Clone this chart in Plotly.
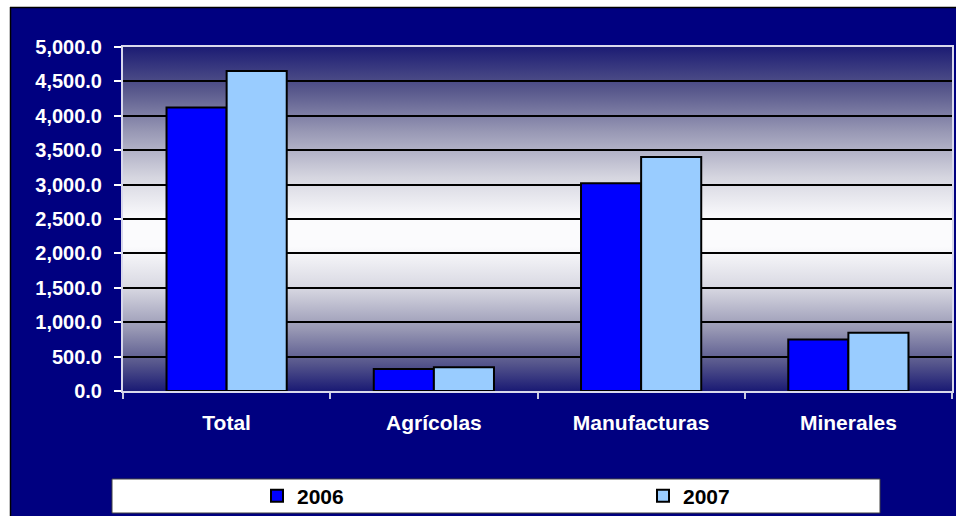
import base64
import plotly.graph_objects as go

categories = ["Total", "Agrícolas", "Manufacturas", "Minerales"]
values_2006 = [4120, 320, 3020, 750]
values_2007 = [4650, 345, 3400, 845]
y_ticks = [0, 500, 1000, 1500, 2000, 2500, 3000, 3500, 4000, 4500, 5000]

W, H = 956, 516
ML, MR, MT, MB = 123, 4, 47, 125
PW, PH = W - ML - MR, H - MT - MB
NAVY = "#000080"
FONT = "Arial, Liberation Sans, sans-serif"


def px_x(px):
    return (px - ML) / PW


def px_y(py):
    return (H - MB - py) / PH


# vertical gradient for the plot area: navy -> white -> navy
svg = """<svg xmlns='http://www.w3.org/2000/svg' width='100' height='100' preserveAspectRatio='none'>
<defs><linearGradient id='g' x1='0' y1='0' x2='0' y2='1'>
<stop offset='0' stop-color='#1c1c74'/>
<stop offset='0.12' stop-color='#55558a'/>
<stop offset='0.25' stop-color='#9a9ab6'/>
<stop offset='0.38' stop-color='#d6d6e0'/>
<stop offset='0.5' stop-color='#fbfbfd'/>
<stop offset='0.58' stop-color='#fbfbfd'/>
<stop offset='0.7' stop-color='#d8d8e2'/>
<stop offset='0.82' stop-color='#9898b4'/>
<stop offset='0.92' stop-color='#56568c'/>
<stop offset='1' stop-color='#1a1a74'/>
</linearGradient></defs>
<rect width='100' height='100' fill='url(#g)'/></svg>"""
svg_uri = "data:image/svg+xml;base64," + base64.b64encode(svg.encode()).decode()

fig = go.Figure()
fig.add_trace(go.Bar(x=categories, y=values_2006, name="2006", legend="legend",
                     marker=dict(color="#0000FF", line=dict(color="black", width=2))))
fig.add_trace(go.Bar(x=categories, y=values_2007, name="2007", legend="legend2",
                     marker=dict(color="#99CCFF", line=dict(color="black", width=2))))

fig.add_layout_image(dict(source=svg_uri, xref="paper", yref="paper", x=0, y=1,
                          sizex=1, sizey=1, sizing="stretch", layer="below",
                          xanchor="left", yanchor="top"))

shapes = [
    # white strips outside the navy chart area
    dict(type="rect", xref="paper", yref="paper", x0=px_x(0), x1=px_x(W), y0=px_y(7), y1=px_y(0),
         fillcolor="white", line=dict(width=0), layer="below"),
    dict(type="rect", xref="paper", yref="paper", x0=px_x(0), x1=px_x(10), y0=px_y(H), y1=px_y(0),
         fillcolor="white", line=dict(width=0), layer="below"),
    dict(type="line", xref="paper", yref="paper", x0=px_x(10), x1=px_x(W), y0=px_y(7.5), y1=px_y(7.5),
         line=dict(color="black", width=1.5)),
    dict(type="line", xref="paper", yref="paper", x0=px_x(10.5), x1=px_x(10.5), y0=px_y(H), y1=px_y(7),
         line=dict(color="black", width=1.5)),
    # legend box
    dict(type="rect", xref="paper", yref="paper", x0=px_x(112), x1=px_x(880), y0=px_y(513), y1=px_y(479),
         fillcolor="white", line=dict(color="#404040", width=1), layer="below"),
]

legend_style = dict(orientation="h", xref="container", yref="container",
                    xanchor="left", yanchor="middle", y=1 - 496 / H,
                    bgcolor="rgba(0,0,0,0)", borderwidth=0,
                    font=dict(family=FONT, size=21, color="black", weight="bold"),
                    itemclick=False)

fig.update_layout(
    width=W, height=H,
    margin=dict(l=ML, r=MR, t=MT, b=MB, autoexpand=False),
    paper_bgcolor=NAVY,
    plot_bgcolor="rgba(0,0,0,0)",
    barmode="group", bargap=0.42, bargroupgap=0,
    font=dict(family=FONT, color="white"),
    shapes=shapes,
    showlegend=True,
    legend=dict(legend_style, x=257 / W),
    legend2=dict(legend_style, x=643 / W),
)

fig.update_xaxes(
    showgrid=False, showline=True, linecolor="#d8d8ec", linewidth=2, mirror=True,
    ticks="outside", tickson="boundaries", ticklen=6, tickcolor="#c8c8e0", tickwidth=2,
    tickfont=dict(size=21, color="white", weight="bold"), ticklabelstandoff=12,
)
fig.update_yaxes(
    range=[0, 5000], tickvals=y_ticks, tickformat=",.1f",
    showgrid=True, gridcolor="black", gridwidth=1.5,
    showline=True, linecolor="#d8d8ec", linewidth=2, mirror=True,
    ticks="outside", ticklen=7, tickcolor="white", tickwidth=2,
    tickfont=dict(size=20, color="white", weight="bold"), ticklabelstandoff=8,
    zeroline=False,
)

fig.write_html("out.html", config={"displayModeBar": False},
               post_script="document.body.style.margin='0';document.body.style.overflow='hidden';")
